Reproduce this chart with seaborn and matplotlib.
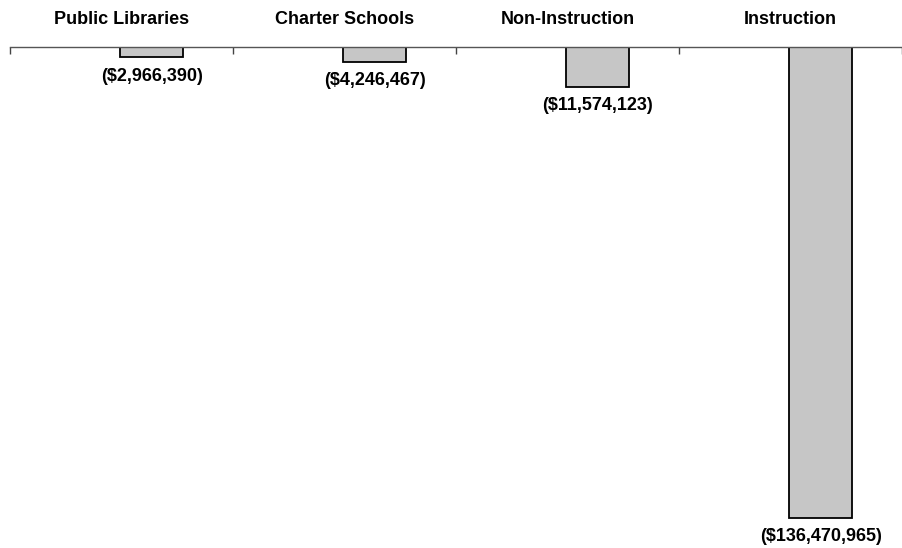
import numpy as np
import pandas as pd
import matplotlib
matplotlib.use('Agg')
import matplotlib.pyplot as plt
import seaborn as sns

# Chart data
categories = ['Public Libraries', 'Charter Schools', 'Non-Instruction', 'Instruction']
values = [-2966390, -4246467, -11574123, -136470965]
value_labels = ['($2,966,390)', '($4,246,467)', '($11,574,123)', '($136,470,965)']

df = pd.DataFrame({'category': categories, 'value': values})

sns.set_style('white')
plt.rcParams['font.family'] = ['Liberation Sans', 'DejaVu Sans']
plt.rcParams['text.color'] = 'black'
plt.rcParams['xtick.color'] = 'black'

fig = plt.figure(figsize=(9.02, 5.48), dpi=100)
ax = fig.add_axes([10 / 902, 0, 892 / 902, 501 / 548])

sns.barplot(data=df, x='category', y='value', color='#c6c6c6', saturation=1,
            edgecolor='black', linewidth=1.3, width=0.284, ax=ax)

# Value labels under each bar
for i, (v, lab) in enumerate(zip(values, value_labels)):
    ax.annotate(lab, (i, v), xytext=(0, -7.5), textcoords='offset points',
                ha='center', va='top', fontsize=13, fontweight='bold', color='black')

ax.set_xlim(-0.636, 3.329)
ax.set_ylim(-145.2e6, 0)

# Axis on top, category boundaries as ticks, names between them
for s in ['bottom', 'left', 'right']:
    ax.spines[s].set_visible(False)
ax.spines['top'].set_color('#555555')
ax.spines['top'].set_linewidth(1.0)
ax.set_yticks([])
ax.set_xlabel('')
ax.set_ylabel('')
ax.xaxis.tick_top()
bounds = np.arange(len(categories) + 1) - 0.636
ax.set_xticks(bounds)
ax.set_xticklabels([''] * len(bounds))
ax.tick_params(axis='x', which='major', direction='in', length=5, width=1, color='#444444')
ax.set_xticks(np.arange(len(categories)) - 0.136, minor=True)
ax.set_xticklabels(categories, minor=True, fontsize=13, fontweight='bold', color='black')
ax.tick_params(axis='x', which='minor', length=0, pad=14, top=True, labeltop=True,
               bottom=False, labelbottom=False)

fig.savefig('out.png', dpi=100)
